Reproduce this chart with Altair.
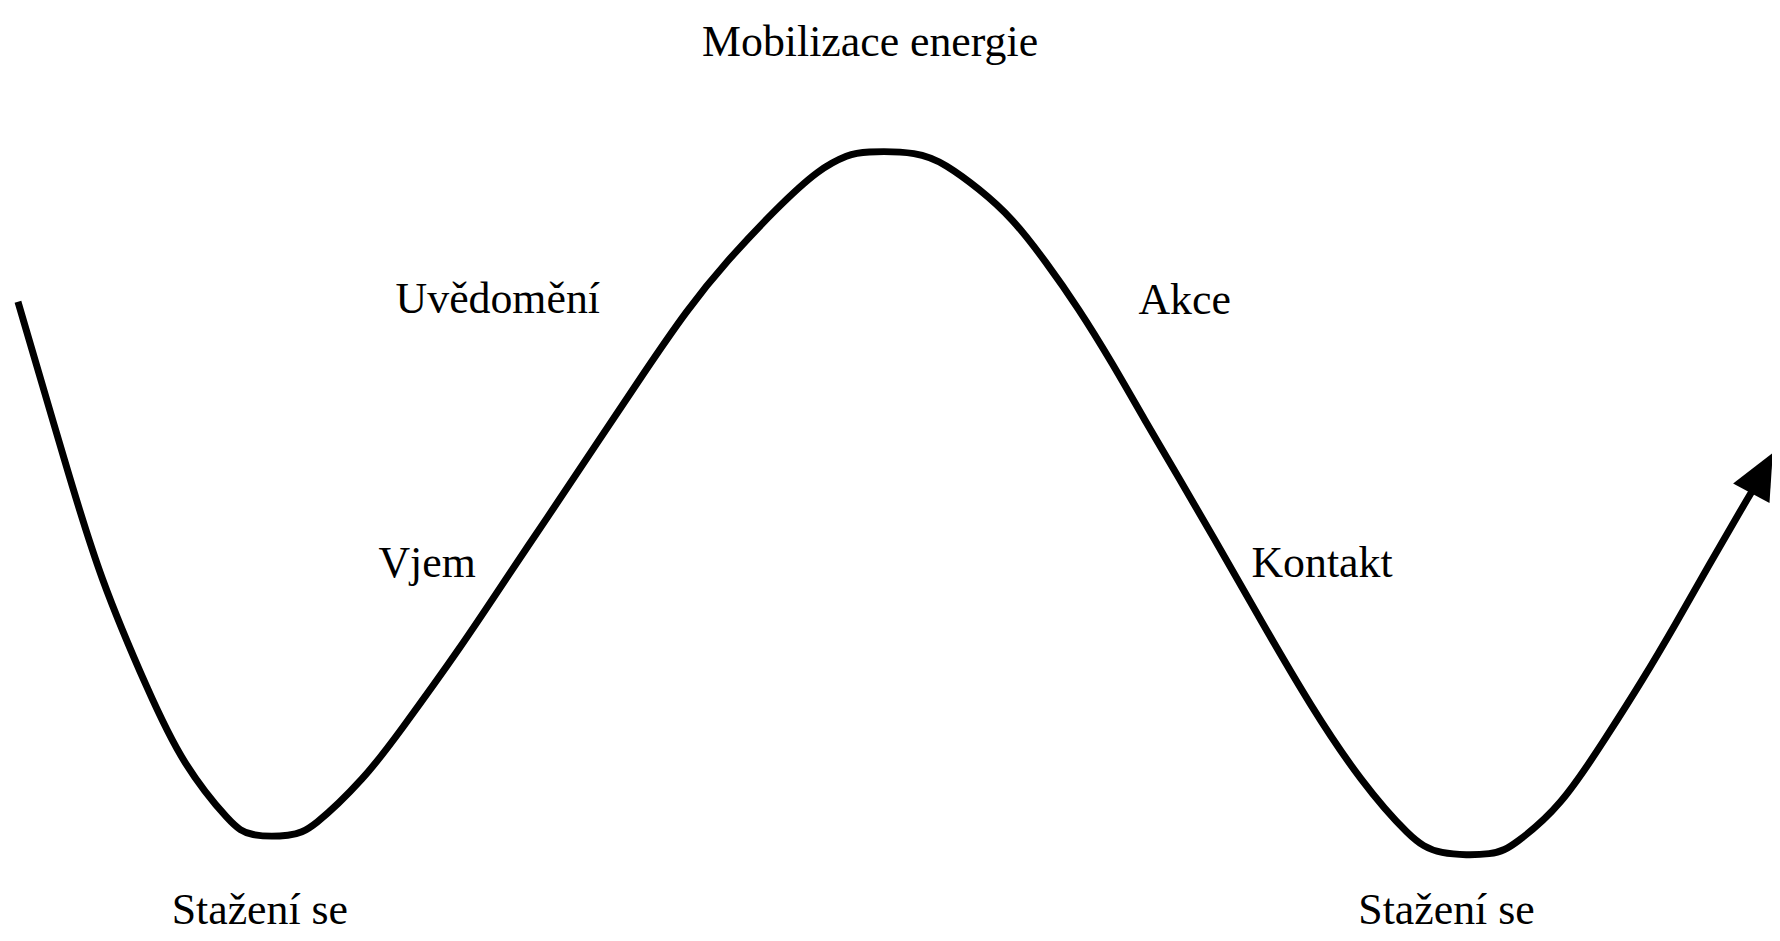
import altair as alt
import pandas as pd

# Curve path (page pixel coordinates, y downward)
curve_x = [18, 67, 100, 150, 183, 233, 250, 293, 313, 367, 400, 463, 513, 547, 597, 647, 690,
           730, 780, 823, 853, 866, 923, 950, 983, 1017, 1050, 1083, 1117, 1150, 1183, 1217,
           1267, 1317, 1367, 1417, 1443, 1503, 1520, 1567, 1617, 1650, 1683, 1717, 1750, 1762]
curve_y = [301, 468, 578, 695, 765, 827, 838, 838, 831, 779, 735, 648, 572, 522, 447, 372, 309,
           260, 207, 167, 153, 150, 150, 163, 187, 217, 260, 307, 362, 420, 476, 534,
           622, 708, 783, 840, 857, 857, 847, 810, 733, 681, 625, 565, 508, 488]

# Arrow head at the end of the curve
arrow_x = [1770]
arrow_y = [473]

# Labels
label_text = ["Mobilizace energie", "Uvědomění", "Akce", "Vjem", "Kontakt", "Stažení se", "Stažení se"]
label_x = [874, 500, 1190, 429, 1328, 261, 1453]
label_y = [54, 312, 313, 577, 577, 926, 926]

W, H = 1772, 933
xs = alt.Scale(domain=[8, 1780], nice=False, zero=False)
ys = alt.Scale(domain=[941, 8], nice=False, zero=False)

curve = pd.DataFrame({"x": curve_x, "y": curve_y, "i": list(range(len(curve_x)))})
arrow = pd.DataFrame({"x": arrow_x, "y": arrow_y})
labels = pd.DataFrame({"t": label_text, "x": label_x, "y": label_y})

line = alt.Chart(curve).mark_line(
    color="black", strokeWidth=7, interpolate="basis", strokeJoin="round", clip=False
).encode(
    x=alt.X("x:Q", scale=xs, axis=None),
    y=alt.Y("y:Q", scale=ys, axis=None),
    order="i:Q",
)

head = alt.Chart(arrow).mark_point(
    shape="M0,-1L-0.9,1L0.9,1Z", filled=True, color="black", opacity=1,
    size=46 * 46, angle=28, strokeWidth=0
).encode(
    x=alt.X("x:Q", scale=xs, axis=None),
    y=alt.Y("y:Q", scale=ys, axis=None),
)

text = alt.Chart(labels).mark_text(
    font="Liberation Serif", fontSize=44, align="center", baseline="alphabetic", color="black"
).encode(
    x=alt.X("x:Q", scale=xs, axis=None),
    y=alt.Y("y:Q", scale=ys, axis=None),
    text="t:N",
)

chart = alt.layer(line, head, text).properties(
    width=W, height=H, autosize=alt.AutoSizeParams(type="none"), padding=0, background="white"
).configure_view(stroke=None)

chart.save("out.html", embed_options={"renderer": "svg", "actions": False})
